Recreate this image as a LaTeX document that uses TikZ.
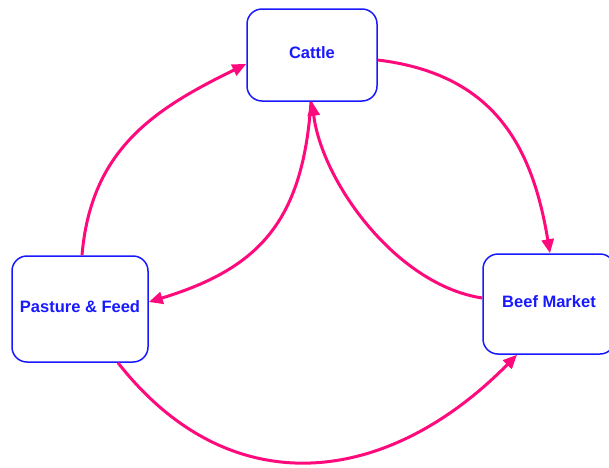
\documentclass[tikz,border=0pt]{standalone}
\usepackage{fontspec}
\setmainfont{Liberation Sans}
\usetikzlibrary{arrows.meta,calc}

\definecolor{boxblue}{RGB}{25,25,255}
\definecolor{flowpink}{RGB}{255,10,125}

\tikzset{
  stage/.style={draw=boxblue, line width=1.5pt, rounded corners=15pt,
    fill=white, text=boxblue, font=\fontsize{16.5}{19}\selectfont\bfseries,
    text height=12pt, text depth=5pt, inner sep=0pt},
  flow/.style={draw=flowpink, line width=3pt,
    -{Triangle[length=14pt,width=12pt]}}
}

\begin{document}
\begin{tikzpicture}[x=1pt,y=-1pt]
  \useasboundingbox (0,0) rectangle (609,467);
  \clip (0,0) rectangle (609,467);

  % the three stages of the cycle
  \node[stage, minimum width=130pt, minimum height=92pt]  (cattle)  at (312,55)  {Cattle};
  \node[stage, minimum width=136pt, minimum height=106pt] (pasture) at (80,309)  {Pasture \& Feed};
  \node[stage, minimum width=132pt, minimum height=100pt] (beef)    at (549,304) {Beef Market};

  % outer loop
  \draw[flow] ($(pasture.north)+(2,0)$)
      .. controls +(9,-106) and +(-92,45) .. ($(cattle.west)+(0,9)$);
  \draw[flow] ($(cattle.east)+(0,5)$)
      .. controls +(115,14) and +(-18,-109) .. ($(beef.north)+(1,0)$);
  \draw[flow] ($(pasture.south)+(38,0)$)
      .. controls +(111,142) and +(-131,133) .. ($(beef.south)+(-32,0)$);

  % inner returns through the cattle stage
  \draw[flow] ($(beef.west)+(0,-6)$)
      .. controls +(-86,-13) and +(10,80) .. (cattle.south);
  \draw[flow] ($(cattle.south)+(-1,0)$)
      .. controls +(-8,118) and +(112,-34) .. ($(pasture.east)+(0,-7)$);
\end{tikzpicture}
\end{document}
